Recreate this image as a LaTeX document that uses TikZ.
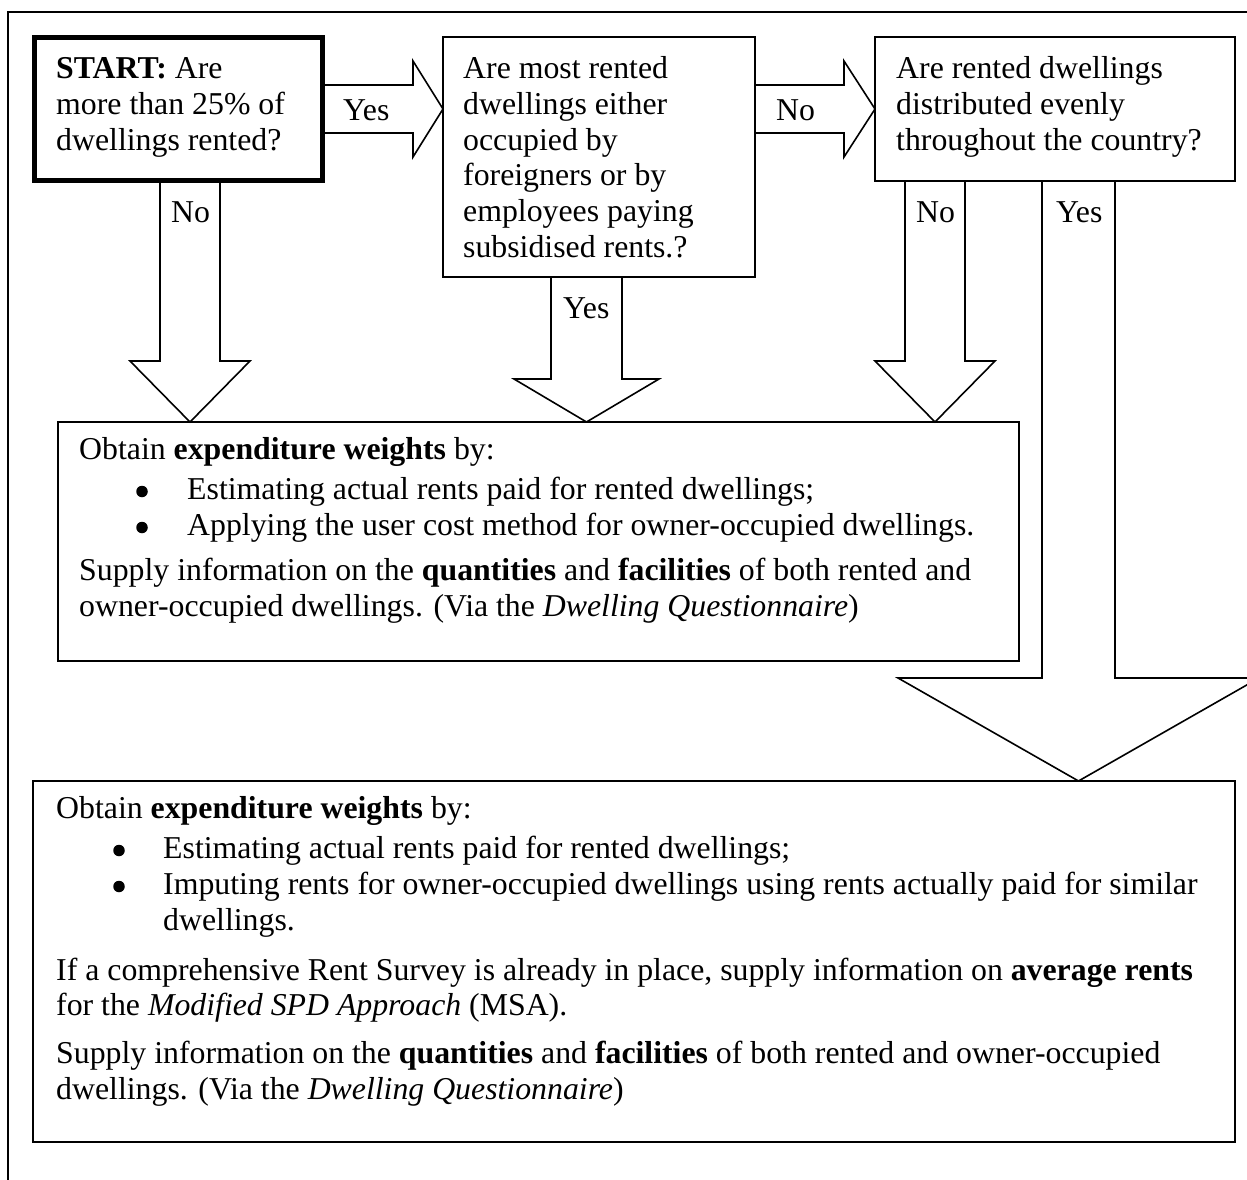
\documentclass[tikz,border=0pt]{standalone}
\usepackage{fontspec}
\setmainfont{Liberation Serif}
\begin{document}
\begin{tikzpicture}[x=1pt,y=-1pt,
  box/.style={draw, line width=1.6pt, inner sep=0pt, outer sep=0pt, anchor=north west},
  txt/.style={anchor=base west, inner sep=0pt, font=\fontsize{31.8}{36}\selectfont},
  bul/.style={circle, fill=black, inner sep=0pt, minimum size=11.5pt},
  blk/.style={draw, line width=1.6pt, line join=miter, miter limit=20}]
\useasboundingbox (0,0) rectangle (1247,1180);
\clip (0,0) rectangle (1247,1180);
\draw[line width=1.8pt] (8,12) rectangle (1300,1250);

% boxes
\node[box, line width=5pt, minimum width=288pt, minimum height=143pt] (start) at (34.5,37.5) {};
\node[box, minimum width=312pt, minimum height=240pt] (q2) at (443,37) {};
\node[box, minimum width=360pt, minimum height=144pt] (q3) at (875,37) {};
\node[box, minimum width=961pt, minimum height=239pt] (r1) at (58,422) {};
\node[box, minimum width=1202pt, minimum height=361pt] (r2) at (33,781) {};

% block arrows
\draw[blk] (start.east |- 0,85) -- (413,85) -- (413,61) -- (q2.west |- 0,109) -- (413,157) -- (413,133) -- (start.east |- 0,133);
\draw[blk] (q2.east |- 0,85) -- (844,85) -- (844,61) -- (q3.west |- 0,109) -- (844,157) -- (844,133) -- (q2.east |- 0,133);
\draw[blk] (160,0 |- start.south) -- (160,361) -- (130,361) -- (190,0 |- r1.north) -- (250,361) -- (220,361) -- (220,0 |- start.south);
\draw[blk] (551,0 |- q2.south) -- (551,379) -- (514,379) -- (586.5,0 |- r1.north) -- (659,379) -- (622,379) -- (622,0 |- q2.south);
\draw[blk] (905,0 |- q3.south) -- (905,361) -- (875,361) -- (935,0 |- r1.north) -- (995,361) -- (965,361) -- (965,0 |- q3.south);
\draw[blk] (1042,0 |- q3.south) -- (1042,678) -- (898,678) -- (1078.5,0 |- r2.north) -- (1259,678) -- (1115,678) -- (1115,0 |- q3.south);

% question texts
\node[txt] (s1) at (56,78.5) {\textbf{START:} Are};
\node[txt] (s2) at (56,114.5) {more than 25\% of};
\node[txt] (s3) at (56,150.5) {dwellings rented?};

\node[txt] (a1) at (463,78.5) {Are most rented};
\node[txt] (a2) at (463,114.3) {dwellings either};
\node[txt] (a3) at (463,150.1) {occupied by};
\node[txt] (a4) at (463,185.9) {foreigners or by};
\node[txt] (a5) at (463,221.7) {employees paying};
\node[txt] (a6) at (463,257.5) {subsidised rents.?};

\node[txt] (b1) at (896,78.5) {Are rented dwellings};
\node[txt] (b2) at (896,114.5) {distributed evenly};
\node[txt] (b3) at (896,150.5) {throughout the country?};

% arrow labels
\node[txt] (l1) at (343,121) {Yes};
\node[txt] (l2) at (776,121) {No};
\node[txt] (l3) at (171,222) {No};
\node[txt] (l4) at (563,318) {Yes};
\node[txt] (l5) at (916,222) {No};
\node[txt] (l6) at (1056,222) {Yes};

% result 1
\node[txt] (r1a) at (79,459) {Obtain \textbf{expenditure weights} by:};
\node[bul] (r1bb) at (142,491.5) {};
\node[txt] (r1b) at (187,499) {Estimating actual rents paid for rented dwellings;};
\node[bul] (r1cb) at (142,527.5) {};
\node[txt] (r1c) at (187,535) {Applying the user cost method for owner-occupied dwellings.};
\node[txt] (r1d) at (79,580) {Supply information on the \textbf{quantities} and \textbf{facilities} of both rented and};
\node[txt] (r1e) at (79,616) {owner-occupied dwellings. (Via the \textit{Dwelling Questionnaire})};

% result 2
\node[txt] (r2a) at (56,818) {Obtain \textbf{expenditure weights} by:};
\node[bul] (r2bb) at (119,850.5) {};
\node[txt] (r2b) at (163,858) {Estimating actual rents paid for rented dwellings;};
\node[bul] (r2cb) at (119,886.5) {};
\node[txt] (r2c) at (163,894) {Imputing rents for owner-occupied dwellings using rents actually paid for similar};
\node[txt] (r2d) at (163,930) {dwellings.};
\node[txt] (r2e) at (56,980) {If a comprehensive Rent Survey is already in place, supply information on \textbf{average rents}};
\node[txt] (r2f) at (56,1015.5) {for the \textit{Modified SPD Approach} (MSA).};
\node[txt] (r2g) at (56,1063) {Supply information on the \textbf{quantities} and \textbf{facilities} of both rented and owner-occupied};
\node[txt] (r2h) at (56,1099) {dwellings. (Via the \textit{Dwelling Questionnaire})};
\end{tikzpicture}
\end{document}
